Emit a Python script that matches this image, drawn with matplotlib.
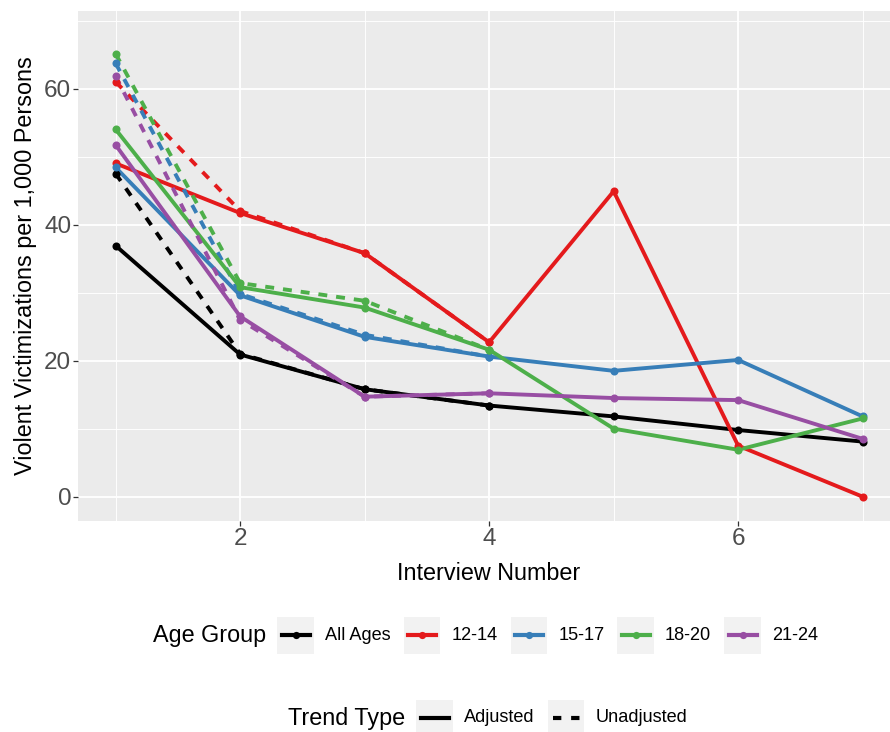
import matplotlib
matplotlib.use("Agg")
import matplotlib.pyplot as plt
from matplotlib.patches import Rectangle
from matplotlib.lines import Line2D

plt.rcParams['font.family'] = ['Liberation Sans', 'DejaVu Sans']

# data
interview = [1, 2, 3, 4, 5, 6, 7]
interview_unadj = [1, 2, 3, 4]
groups = ["All Ages", "12-14", "15-17", "18-20", "21-24"]
colors = ["#000000", "#E41A1C", "#377EB8", "#4DAF4A", "#984EA3"]

adj_all = [36.9, 20.9, 15.8, 13.4, 11.8, 9.8, 8.1]
adj_12_14 = [49.0, 41.7, 35.8, 22.7, 44.9, 7.5, 0.0]
adj_15_17 = [48.4, 29.6, 23.5, 20.6, 18.5, 20.1, 11.8]
adj_18_20 = [54.0, 30.8, 27.8, 21.6, 10.0, 6.9, 11.5]
adj_21_24 = [51.7, 26.5, 14.7, 15.2, 14.5, 14.2, 8.5]

unadj_all = [47.5, 21.0, 15.8, 13.4]
unadj_12_14 = [61.0, 42.0, 35.8, 22.7]
unadj_15_17 = [63.7, 29.8, 23.8, 20.6]
unadj_18_20 = [65.1, 31.4, 28.8, 21.6]
unadj_21_24 = [61.8, 26.0, 14.7, 15.2]

adjusted = [adj_all, adj_12_14, adj_15_17, adj_18_20, adj_21_24]
unadjusted = [unadj_all, unadj_12_14, unadj_15_17, unadj_18_20, unadj_21_24]

W, H = 890, 732
fig = plt.figure(figsize=(W / 100, H / 100), dpi=100)
# the panel runs a little past the right edge of the picture, as in the reference
ax = fig.add_axes([78.3 / W, 1 - 520.7 / H, (900 - 78.3) / W, (520.7 - 11) / H])
ax.set_facecolor("#EBEBEB")
for s in ax.spines.values():
    s.set_visible(False)

LW = 2.8
MS = 5.8
for g in range(len(groups)):
    ax.plot(interview, adjusted[g], color=colors[g], lw=LW, zorder=3,
            solid_capstyle="butt")
    ax.plot(interview_unadj, unadjusted[g], color=colors[g], lw=LW, zorder=3,
            linestyle=(0, (2.3, 2.3)))
for g in range(len(groups)):
    ax.plot(interview, adjusted[g], 'o', color=colors[g], ms=MS, mew=0, zorder=4)
    ax.plot(interview_unadj, unadjusted[g], 'o', color=colors[g], ms=MS, mew=0, zorder=4)

ax.set_xlim(0.7, 7.3)
ax.set_ylim(-3.53, 71.4)
ax.set_xticks([2, 4, 6])
ax.set_xticks([1, 3, 5, 7], minor=True)
ax.set_yticks([0, 20, 40, 60])
ax.set_yticks([10, 30, 50, 70], minor=True)
ax.grid(which="major", color="white", lw=1.3, zorder=1)
ax.grid(which="minor", color="white", lw=0.65, zorder=1)
ax.set_axisbelow(True)
ax.tick_params(which="major", length=3.5, width=0.9, color="#333333",
               labelsize=17.5, labelcolor="#4D4D4D", pad=1.5)
ax.tick_params(which="minor", length=0)

fig.text(26 / W, 1 - 266 / H, "Violent Victimizations per 1,000 Persons",
         rotation=90, ha="center", va="center", fontsize=16.8)
fig.text(489 / W, 1 - 580 / H, "Interview Number", ha="center",
         va="baseline", fontsize=16.8)

# legends, drawn by hand in ggplot's horizontal layout
renderer = fig.canvas.get_renderer()
KEY = 36.7


def px(x, y):
    return x / W, 1 - y / H


def text_right(t):
    bb = t.get_window_extent(renderer=renderer)
    return bb.x1


def draw_key(x0, yc, color, ls, marker):
    fig.patches.append(Rectangle(px(x0, yc + KEY / 2), KEY / W, KEY / H,
                                 transform=fig.transFigure, facecolor="#F2F2F2",
                                 edgecolor="none"))
    if ls == "-":
        xs = [px(x0 + 4.3, yc)[0], px(x0 + KEY - 4.3, yc)[0]]
    else:
        xs = [px(x0 + 5.0, yc)[0], px(x0 + KEY - 3.4, yc)[0]]
    ys = [px(0, yc)[1]] * 2
    fig.lines.append(Line2D(xs, ys, transform=fig.transFigure, color=color,
                            lw=3.0, linestyle=ls))
    if marker:
        fig.lines.append(Line2D([sum(xs) / 2], [ys[0]], transform=fig.transFigure,
                                marker="o", ms=5.2, mew=0, color=color))


def legend_row(title, x0, yc, labels, cols, styles, markers):
    t = fig.text(*px(x0, yc), title, fontsize=16.8, va="center", ha="left")
    x = text_right(t) + 11
    for lab, c, ls in zip(labels, cols, styles):
        draw_key(x, yc, c, ls, markers)
        t = fig.text(*px(x + KEY + 11, yc), lab, fontsize=13.1, va="center", ha="left")
        x = text_right(t) + 13


legend_row("Age Group", 153.3, 635.3, groups, colors, ["-"] * 5, True)
legend_row("Trend Type", 288.3, 718, ["Adjusted", "Unadjusted"],
           ["#000000", "#000000"], ["-", (0, (2.0, 2.35))], False)

fig.savefig("out.png", dpi=100)
